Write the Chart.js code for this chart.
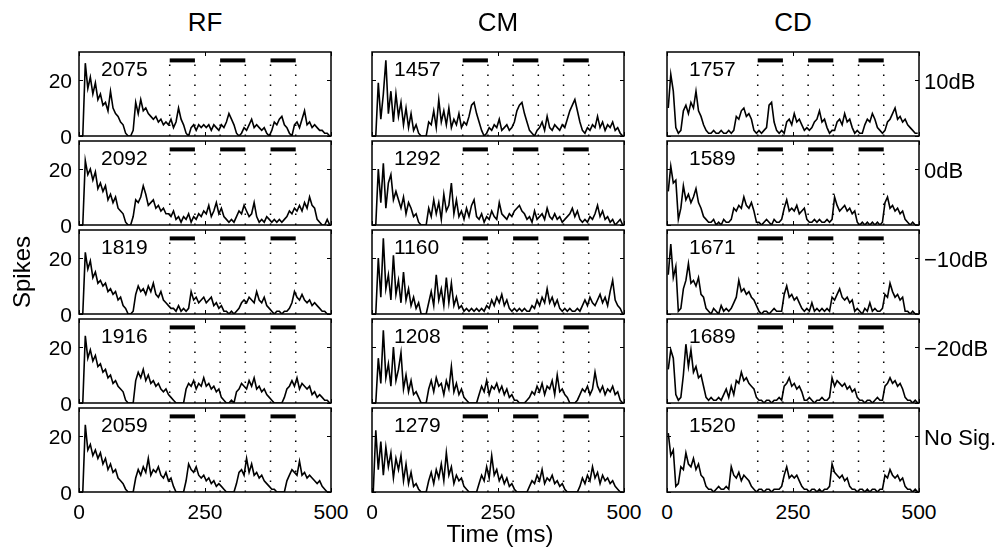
<!DOCTYPE html>
<html>
<head>
<meta charset="utf-8">
<script src="https://cdn.jsdelivr.net/npm/chart.js@4.4.1/dist/chart.umd.min.js"></script>
<style>
  body { margin: 0; background: #fff; width: 1008px; height: 549px; position: relative; overflow: hidden;
         font-family: "Liberation Sans", Arial, Helvetica, sans-serif; color: #000; }
  .lbl { position: absolute; white-space: nowrap; line-height: 1; }
  .panel { position: absolute; }
</style>
</head>
<body>
<script>
// --- datos ---
const columnTitles = ['RF', 'CM', 'CD'];
const rowLabels = ['10dB', '0dB', '\u221210dB', '\u221220dB', 'No Sig.'];
const xTickValues = [0, 250, 500];
const yTickValues = [0, 20];
const stimOnsets = [180, 280, 380];
const stimOffsets = [230, 330, 430];
const stimLevel = 27;
const spikeTotals = [
    [2075, 1457, 1757],
    [2092, 1292, 1589],
    [1819, 1160, 1671],
    [1916, 1208, 1689],
    [2059, 1279, 1520]
];
const binWidth = 5;
const binStart = [0, 5, 10, 15, 20, 25, 30, 35, 40, 45, 50, 55, 60, 65, 70, 75, 80, 85, 90, 95,
    100, 105, 110, 115, 120, 125, 130, 135, 140, 145, 150, 155, 160, 165, 170, 175, 180, 185, 190, 195,
    200, 205, 210, 215, 220, 225, 230, 235, 240, 245, 250, 255, 260, 265, 270, 275, 280, 285, 290, 295,
    300, 305, 310, 315, 320, 325, 330, 335, 340, 345, 350, 355, 360, 365, 370, 375, 380, 385, 390, 395,
    400, 405, 410, 415, 420, 425, 430, 435, 440, 445, 450, 455, 460, 465, 470, 475, 480, 485, 490, 495];

// RF
const rf10 = [0, 0, 26, 17, 21, 15, 19, 13, 15, 11, 12, 9, 16, 10, 8, 7, 5, 4, 1, 0,
    0, 2, 12, 8, 13, 9, 10, 8, 7, 6, 7, 5, 6, 4, 5, 4, 6, 3, 5, 10,
    6, 4, 1, 0, 3, 4, 2, 4, 3, 4, 3, 4, 2, 4, 3, 2, 4, 3, 5, 8,
    6, 4, 1, 0, 1, 3, 2, 4, 6, 3, 4, 3, 2, 3, 1, 0, 2, 5, 4, 6,
    7, 4, 3, 1, 0, 4, 5, 3, 6, 9, 4, 5, 3, 4, 3, 2, 2, 1, 1, 0];
const rf0 = [0, 0, 23, 18, 20, 16, 19, 13, 15, 12, 14, 9, 11, 8, 10, 6, 5, 4, 1, 0,
    0, 3, 9, 8, 10, 14, 11, 7, 8, 9, 6, 7, 5, 6, 4, 4, 3, 5, 2, 3,
    1, 3, 2, 4, 1, 3, 2, 4, 3, 5, 4, 7, 3, 5, 8, 4, 6, 3, 2, 1,
    2, 1, 3, 5, 4, 7, 5, 3, 4, 8, 3, 1, 2, 1, 3, 2, 1, 2, 1, 2,
    1, 2, 3, 5, 4, 6, 5, 7, 5, 8, 6, 10, 7, 6, 2, 1, 0, 0, 2, 0];
const rfMinus10 = [0, 0, 22, 16, 19, 13, 15, 11, 12, 10, 11, 8, 9, 7, 8, 5, 6, 3, 2, 0,
    0, 1, 7, 10, 8, 9, 7, 10, 8, 11, 7, 6, 8, 5, 4, 3, 2, 2, 1, 3,
    1, 2, 1, 2, 8, 5, 6, 4, 5, 6, 4, 5, 6, 3, 4, 2, 3, 1, 1, 0,
    1, 0, 1, 2, 4, 5, 4, 6, 5, 4, 8, 5, 4, 6, 3, 2, 1, 0, 1, 1,
    0, 1, 1, 2, 4, 8, 6, 5, 7, 5, 4, 5, 3, 4, 3, 2, 1, 1, 0, 0];
const rfMinus20 = [0, 0, 24, 16, 19, 15, 17, 13, 14, 11, 12, 9, 10, 7, 8, 6, 5, 4, 1, 0,
    0, 0, 8, 11, 9, 12, 8, 10, 7, 8, 6, 7, 5, 4, 5, 3, 2, 1, 0, 0,
    0, 0, 5, 7, 6, 8, 5, 7, 6, 9, 6, 7, 5, 6, 4, 5, 2, 1, 0, 0,
    1, 0, 4, 5, 7, 6, 5, 8, 6, 9, 5, 6, 4, 5, 3, 2, 1, 0, 0, 0,
    0, 2, 5, 6, 8, 6, 9, 5, 7, 6, 5, 6, 3, 4, 2, 3, 2, 1, 1, 0];
const rfNoSig = [0, 0, 24, 15, 17, 13, 15, 12, 14, 10, 12, 8, 10, 7, 8, 5, 4, 3, 1, 0,
    0, 0, 5, 8, 6, 9, 7, 12, 6, 8, 7, 9, 6, 5, 7, 4, 5, 2, 0, 0,
    0, 0, 4, 10, 8, 7, 9, 6, 5, 6, 4, 5, 3, 4, 2, 3, 2, 1, 0, 0,
    0, 0, 3, 7, 8, 6, 12, 7, 10, 6, 7, 5, 6, 4, 3, 2, 1, 1, 0, 0,
    0, 0, 4, 6, 8, 7, 6, 11, 6, 7, 5, 6, 5, 4, 3, 4, 2, 1, 0, 0];

// CM
const cm10 = [0, 0, 19, 6, 15, 27, 8, 16, 5, 15, 7, 12, 4, 10, 3, 8, 2, 4, 1, 0,
    0, 0, 5, 4, 9, 3, 13, 5, 9, 4, 10, 3, 6, 4, 8, 3, 5, 4, 7, 11,
    12, 8, 5, 2, 0, 1, 3, 2, 4, 3, 6, 2, 3, 4, 2, 3, 5, 9, 11, 12,
    8, 5, 2, 1, 0, 2, 3, 5, 2, 7, 3, 2, 4, 3, 2, 4, 3, 6, 9, 11,
    13, 9, 5, 2, 1, 3, 2, 4, 3, 7, 3, 5, 2, 4, 3, 5, 2, 3, 1, 0];
const cm0 = [0, 0, 20, 8, 22, 6, 15, 18, 9, 12, 9, 6, 10, 4, 8, 6, 3, 4, 1, 0,
    0, 0, 6, 3, 9, 4, 8, 2, 11, 5, 7, 15, 4, 9, 3, 5, 2, 6, 3, 7,
    9, 3, 2, 4, 1, 3, 2, 5, 3, 2, 8, 4, 3, 2, 4, 3, 5, 6, 7, 5,
    4, 2, 3, 1, 5, 2, 3, 4, 2, 6, 3, 2, 4, 2, 3, 1, 2, 3, 4, 6,
    3, 5, 2, 1, 2, 1, 3, 2, 4, 7, 3, 5, 2, 3, 1, 2, 0, 1, 2, 0];
const cmMinus10 = [0, 0, 20, 6, 27, 9, 14, 5, 21, 7, 12, 4, 15, 5, 9, 3, 6, 2, 4, 0,
    0, 0, 4, 8, 3, 14, 5, 9, 3, 13, 4, 11, 3, 6, 2, 3, 1, 2, 1, 2,
    1, 2, 1, 2, 1, 3, 2, 5, 3, 6, 4, 7, 3, 5, 2, 1, 2, 1, 2, 1,
    2, 1, 1, 3, 2, 5, 3, 6, 4, 9, 4, 6, 3, 5, 2, 1, 2, 1, 2, 1,
    1, 2, 1, 3, 5, 3, 6, 4, 3, 5, 7, 4, 6, 3, 8, 12, 5, 3, 2, 0];
const cmMinus20 = [0, 0, 16, 7, 26, 9, 14, 6, 20, 8, 12, 18, 5, 10, 4, 8, 3, 4, 2, 0,
    0, 0, 5, 8, 4, 9, 6, 7, 3, 8, 5, 13, 4, 7, 3, 5, 2, 1, 0, 0,
    0, 0, 3, 6, 4, 8, 3, 6, 5, 7, 4, 6, 3, 5, 2, 3, 1, 1, 0, 0,
    0, 1, 2, 4, 3, 6, 4, 7, 3, 6, 5, 8, 3, 10, 4, 5, 3, 2, 0, 0,
    0, 1, 3, 5, 4, 6, 3, 5, 11, 6, 4, 6, 3, 5, 4, 6, 3, 4, 1, 0];
const cmNoSig = [0, 22, 8, 18, 6, 16, 9, 14, 5, 12, 8, 13, 4, 10, 3, 7, 2, 3, 1, 0,
    0, 0, 4, 7, 3, 8, 5, 10, 4, 14, 6, 9, 3, 6, 4, 5, 2, 1, 0, 0,
    0, 0, 3, 6, 4, 9, 5, 13, 6, 8, 4, 6, 3, 5, 2, 3, 1, 0, 0, 0,
    0, 0, 2, 4, 3, 6, 4, 8, 3, 5, 4, 6, 3, 4, 2, 3, 1, 0, 0, 0,
    0, 0, 2, 5, 3, 6, 4, 9, 5, 7, 3, 6, 4, 5, 3, 4, 2, 1, 0, 0];

// CD
const cd10 = [10, 22, 16, 3, 1, 2, 9, 11, 8, 12, 10, 16, 9, 7, 4, 2, 1, 1, 2, 1,
    1, 2, 1, 1, 2, 1, 2, 7, 6, 9, 10, 7, 8, 6, 2, 1, 2, 1, 2, 3,
    11, 12, 5, 2, 1, 2, 1, 5, 6, 4, 8, 5, 6, 4, 2, 3, 2, 3, 5, 6,
    9, 5, 6, 3, 1, 2, 2, 5, 6, 4, 8, 5, 6, 3, 1, 2, 1, 1, 4, 6,
    5, 8, 6, 3, 2, 1, 2, 5, 6, 8, 10, 6, 7, 5, 6, 4, 3, 2, 1, 1];
const cd0 = [12, 21, 15, 16, 2, 6, 14, 9, 11, 8, 10, 13, 8, 6, 3, 2, 1, 1, 2, 0,
    1, 0, 2, 1, 1, 2, 6, 5, 7, 6, 10, 7, 6, 8, 5, 1, 1, 0, 1, 2,
    1, 0, 2, 1, 1, 2, 6, 9, 5, 6, 5, 7, 4, 5, 6, 2, 1, 1, 2, 1,
    2, 1, 1, 2, 1, 2, 10, 7, 5, 6, 7, 5, 6, 4, 5, 1, 0, 1, 0, 1,
    0, 1, 0, 1, 0, 1, 8, 10, 6, 7, 5, 6, 4, 5, 2, 1, 0, 1, 0, 0];
const cdMinus10 = [14, 25, 13, 17, 1, 2, 9, 12, 18, 11, 12, 10, 13, 7, 6, 2, 1, 0, 2, 1,
    0, 3, 1, 2, 1, 2, 4, 6, 12, 8, 9, 7, 8, 6, 5, 3, 1, 0, 1, 1,
    0, 1, 2, 1, 1, 1, 7, 10, 6, 7, 5, 6, 4, 2, 1, 2, 1, 4, 1, 2,
    1, 2, 1, 2, 1, 6, 5, 7, 9, 6, 5, 6, 4, 5, 1, 2, 1, 0, 2, 1,
    4, 1, 2, 1, 1, 2, 7, 6, 11, 8, 6, 7, 5, 6, 1, 1, 0, 1, 0, 0];
const cdMinus20 = [12, 19, 16, 3, 1, 2, 10, 21, 13, 19, 11, 13, 9, 10, 6, 2, 1, 2, 1, 1,
    2, 1, 3, 5, 2, 6, 3, 8, 7, 11, 8, 9, 7, 6, 5, 2, 1, 1, 0, 1,
    1, 0, 1, 1, 2, 1, 6, 7, 9, 6, 7, 5, 6, 4, 1, 1, 2, 1, 0, 1,
    1, 2, 1, 1, 2, 9, 6, 8, 7, 6, 7, 5, 6, 4, 5, 2, 1, 1, 0, 1,
    1, 0, 1, 2, 1, 1, 6, 7, 9, 7, 8, 6, 7, 5, 2, 1, 1, 0, 1, 0];
const cdNoSig = [21, 13, 15, 2, 3, 9, 8, 14, 10, 9, 12, 8, 10, 6, 5, 2, 1, 1, 0, 1,
    2, 1, 1, 2, 1, 9, 6, 5, 7, 4, 6, 5, 4, 2, 1, 0, 1, 1, 0, 1,
    1, 0, 1, 1, 1, 2, 6, 9, 5, 6, 5, 6, 4, 2, 1, 1, 0, 1, 1, 0,
    1, 0, 1, 1, 2, 10, 7, 6, 5, 6, 4, 5, 2, 1, 1, 0, 1, 1, 0, 1,
    0, 1, 1, 0, 1, 1, 6, 5, 8, 6, 5, 6, 4, 5, 2, 1, 1, 0, 1, 0];

const panelCounts = [
    [rf10, cm10, cd10],
    [rf0, cm0, cd0],
    [rfMinus10, cmMinus10, cdMinus10],
    [rfMinus20, cmMinus20, cdMinus20],
    [rfNoSig, cmNoSig, cdNoSig]
];

// --- maquetación ---
const colLeft = [79, 372, 667];
const rowTop = [52, 141, 230, 319, 408];
const panelW = 252;
const panelH = 84;
const pad = 3;

function addText(text, x, y, size, align, rotate) {
    const el = document.createElement('div');
    el.className = 'lbl';
    el.textContent = text;
    el.style.fontSize = size + 'px';
    el.style.left = x + 'px';
    el.style.top = y + 'px';
    const tx = align === 'right' ? '-100%' : align === 'left' ? '0' : '-50%';
    el.style.transform = `translate(${tx}, -50%)` + (rotate ? ` rotate(${rotate}deg)` : '');
    document.body.appendChild(el);
}

// marco y marcas de escala hacia dentro
const frameTicks = {
    id: 'frameTicks',
    afterDraw(chart) {
        const { ctx, chartArea: { left, right, top, bottom }, scales: { x, y } } = chart;
        ctx.save();
        ctx.strokeStyle = '#000';
        ctx.lineWidth = 1.5;
        ctx.strokeRect(left, top, right - left, bottom - top);
        ctx.lineWidth = 1;
        ctx.beginPath();
        xTickValues.forEach(v => {
            const px = Math.round(x.getPixelForValue(v)) + 0.5;
            ctx.moveTo(px, bottom); ctx.lineTo(px, bottom - 4);
            ctx.moveTo(px, top); ctx.lineTo(px, top + 4);
        });
        yTickValues.forEach(v => {
            const py = Math.round(y.getPixelForValue(v)) + 0.5;
            ctx.moveTo(left, py); ctx.lineTo(left + 4, py);
            ctx.moveTo(right, py); ctx.lineTo(right - 4, py);
        });
        ctx.stroke();
        ctx.restore();
    }
};

function makePanel(r, c) {
    const counts = panelCounts[r][c];
    const canvas = document.createElement('canvas');
    canvas.className = 'panel';
    canvas.width = panelW + 2 * pad;
    canvas.height = panelH + 2 * pad;
    canvas.style.left = (colLeft[c] - pad) + 'px';
    canvas.style.top = (rowTop[r] - pad) + 'px';
    document.body.appendChild(canvas);

    const datasets = [];
    // histograma (centro de cada bin)
    datasets.push({
        data: binStart.map((t, i) => ({ x: t + binWidth / 2, y: counts[i] })),
        borderColor: '#000', borderWidth: 1.6, fill: false, borderJoinStyle: 'miter'
    });
    stimOnsets.forEach((on, k) => {
        datasets.push({
            data: [{ x: on, y: stimLevel }, { x: stimOffsets[k], y: stimLevel }],
            borderColor: '#000', borderWidth: 4, borderCapStyle: 'butt'
        });
        [on, stimOffsets[k]].forEach(edge => {
            datasets.push({
                data: [{ x: edge, y: 0 }, { x: edge, y: stimLevel - 1.5 }],
                borderColor: '#000', borderWidth: 1.5, borderDash: [1.5, 8.5]
            });
        });
    });

    new Chart(canvas, {
        type: 'line',
        data: { datasets },
        options: {
            animation: false, responsive: false, events: [],
            layout: { padding: pad },
            plugins: { legend: { display: false }, tooltip: { enabled: false } },
            scales: {
                x: { type: 'linear', min: 0, max: 500, display: false },
                y: { min: 0, max: 30, display: false }
            },
            elements: { point: { radius: 0 }, line: { tension: 0 } }
        },
        plugins: [frameTicks]
    });

    addText(String(spikeTotals[r][c]), colLeft[c] + 22, rowTop[r] + 16, 21, 'left');
}

for (let r = 0; r < rowTop.length; r++) {
    for (let c = 0; c < colLeft.length; c++) makePanel(r, c);
    // etiquetas del eje y (solo primera columna)
    yTickValues.forEach(v => {
        addText(String(v), colLeft[0] - 7, rowTop[r] + panelH - v / 30 * panelH, 21, 'right');
    });
    addText(rowLabels[r], colLeft[2] + panelW + 5, rowTop[r] + 30, 22, 'left');
}

columnTitles.forEach((t, c) => {
    addText(t, colLeft[c] + panelW / 2, 22, 26, 'center');
    xTickValues.forEach(v => {
        addText(String(v), colLeft[c] + v / 500 * panelW, 511, 21, 'center');
    });
});

addText('Spikes', 22, 272, 24, 'center', -90);
addText('Time (ms)', 500, 534, 24, 'center');
</script>
</body>
</html>
